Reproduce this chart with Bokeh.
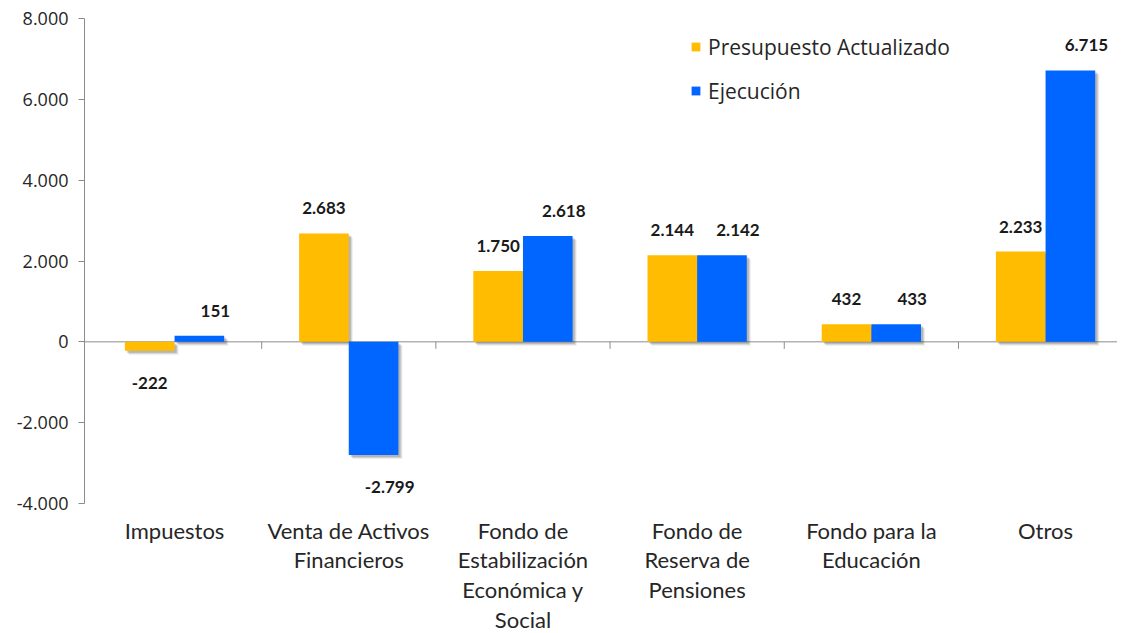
from bokeh.plotting import figure
from bokeh.models import Range1d, FixedTicker, ColumnDataSource, Legend, LegendItem, Span
from bokeh.core.properties import value
from bokeh.embed import file_html
from bokeh.resources import INLINE

categories = [
    "Impuestos",
    "Venta de Activos\nFinancieros",
    "Fondo de\nEstabilización\nEconómica y\nSocial",
    "Fondo de\nReserva de\nPensiones",
    "Fondo para la\nEducación",
    "Otros",
]
presupuesto = [-222, 2683, 1750, 2144, 432, 2233]
ejecucion = [151, -2799, 2618, 2142, 433, 6715]
y_ticks = [-4000, -2000, 0, 2000, 4000, 6000, 8000]
series_names = ["Presupuesto Actualizado", "Ejecución"]

ORANGE = "#FFBC00"
BLUE = "#0066FF"
Y_MIN, Y_MAX = -4000, 8000
FRAME_H = 485
FRAME_W = 1033
UNITS_PER_PX = (Y_MAX - Y_MIN) / FRAME_H


def fmt(v):
    return f"{v:,}".replace(",", ".")


n = len(categories)
centers = [i + 0.5 for i in range(n)]
BW = 0.285
XPX = 1.0 / 174.2

p = figure(
    frame_width=FRAME_W, frame_height=FRAME_H,
    x_range=Range1d(-0.017, -0.017 + FRAME_W / 174.2), y_range=Range1d(Y_MIN, Y_MAX),
    output_backend="svg", toolbar_location=None,
    min_border_left=84, min_border_right=0, min_border_top=18, min_border_bottom=100,
)
p.outline_line_color = None
p.xgrid.visible = False
p.ygrid.visible = False
p.background_fill_color = "white"

# zero line
p.add_layout(Span(location=0, dimension="width", line_color="#8c8c8c", line_width=1, level="underlay"))

# category boundary ticks on the zero line
bx = [float(i) for i in range(1, n)]
p.segment(x0=bx, y0=[0] * len(bx), x1=bx, y1=[-7 * UNITS_PER_PX] * len(bx), line_color="#8c8c8c", line_width=1)

renderers = []
for k, (vals, color, side) in enumerate([(presupuesto, ORANGE, -1), (ejecucion, BLUE, 1)]):
    xs = [c + side * BW / 2 for c in centers]
    # soft shadow
    for dpx, alpha in [(4, 0.10), (3, 0.15), (2, 0.2)]:
        sh = ColumnDataSource(dict(
            x=[x + dpx * XPX for x in xs],
            top=[max(v, 0) - dpx * UNITS_PER_PX for v in vals],
            bottom=[min(v, 0) - dpx * UNITS_PER_PX for v in vals],
        ))
        p.vbar(x="x", top="top", bottom="bottom", width=BW, source=sh,
               fill_color="#404040", fill_alpha=alpha, line_color=None)
    src = ColumnDataSource(dict(x=xs, top=vals, bottom=[0] * n))
    r = p.vbar(x="x", top="top", bottom="bottom", width=BW, source=src,
               fill_color=color, line_color=None)
    renderers.append(r)

for k, (vals, xo) in enumerate([(presupuesto, 0), (ejecucion, 16)]):
    side = -1 if k == 0 else 1
    xs = [c + side * BW / 2 for c in centers]
    lsrc = ColumnDataSource(dict(
        x=xs, y=vals, t=[fmt(v) for v in vals],
        yo=[-25 if v >= 0 else 32 for v in vals],
        xo=[xo] * n,
    ))
    p.text(x="x", y="y", text="t", x_offset="xo", y_offset="yo", source=lsrc,
           text_align="center", text_baseline="middle",
           text_font=value("Lato"), text_font_style="bold", text_font_size="17px",
           text_color="#1a1a1a")

legend = Legend(
    items=[LegendItem(label=series_names[i], renderers=[renderers[i]]) for i in range(2)],
    location=(606, 398),
    border_line_color=None, background_fill_alpha=0,
    glyph_width=11, glyph_height=11, label_standoff=7, spacing=15,
    label_height=29, padding=5,
    label_text_font="Open Sans", label_text_font_size="21px", label_text_color="#262626",
)
p.add_layout(legend)

# x axis (category labels)
xa = p.xaxis[0]
xa.ticker = FixedTicker(ticks=centers)
xa.major_label_overrides = {c: cat for c, cat in zip(centers, categories)}
xa.axis_line_color = None
xa.major_tick_line_color = None
xa.minor_tick_line_color = None
xa.major_label_standoff = 7
xa.major_label_text_font = "Lato"
xa.major_label_text_font_size = "22px"
xa.major_label_text_color = "#262626"
xa.major_label_text_line_height = 1.1

# y axis
ya = p.yaxis[0]
ya.ticker = FixedTicker(ticks=y_ticks)
ya.major_label_overrides = {t: fmt(t) for t in y_ticks}
ya.axis_line_color = "#8c8c8c"
ya.major_tick_line_color = "#8c8c8c"
ya.major_tick_out = 6
ya.major_tick_in = 0
ya.minor_tick_line_color = None
ya.major_label_standoff = 10
ya.major_label_text_font = "Open Sans"
ya.major_label_text_font_size = "18px"
ya.major_label_text_color = "#262626"

open("out.html", "w").write(file_html(p, INLINE))
